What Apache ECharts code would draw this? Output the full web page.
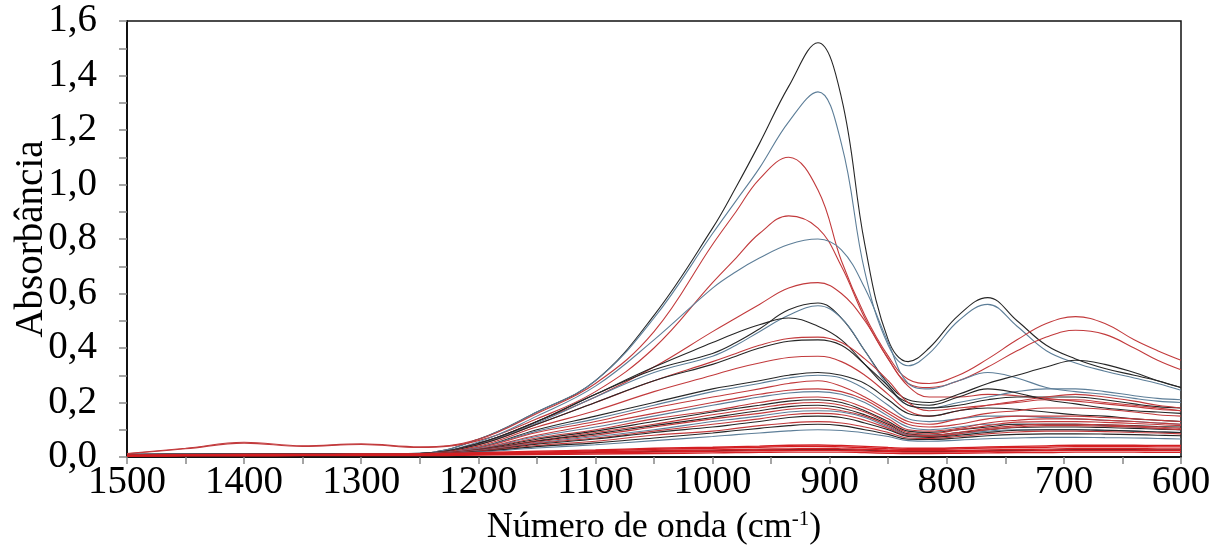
<!DOCTYPE html>
<html>
<head>
<meta charset="utf-8">
<script src="https://cdn.jsdelivr.net/npm/echarts@6/dist/echarts.min.js"></script>
<style>
  html, body { margin: 0; padding: 0; background: #fff; }
  #chart { width: 1219px; height: 554px; }
</style>
</head>
<body>
<div id="chart"></div>
<script>
// Wavenumbers (cm-1) at which each spectrum is sampled
const wavenumbers = [1500,1450,1400,1350,1300,1250,1200,1150,1100,1050,
                     1000,980,960,935,910,890,870,850,833,815,790,765,740,715,690,665,640,620,600];

// Absorbance spectra
const sA  = [0.010,0.011,0.012,0.012,0.012,0.014,0.065,0.165,0.280,0.520, .84,.99,1.15,1.36,1.52,1.32,.78,.43,.35,.40,.52,.585,.50,.41,.36,.325,.30,.28,.255];
const sB  = [0.010,0.011,0.011,0.011,0.012,0.014,0.065,0.165,0.280,0.510, .82,.94,1.06,1.23,1.34,1.15,.68,.41,.335,.38,.50,.56,.48,.39,.345,.315,.29,.27,.245];
const sC  = [0.013,0.032,0.054,0.041,0.048,0.037,0.065,0.160,0.270,0.460, .78,.90,1.02,1.10,.98,.72,.52,.37,.285,.27,.30,.36,.43,.49,.515,.49,.43,.39,.355];
const sD  = [0.012,0.030,0.051,0.039,0.046,0.035,0.060,0.140,0.240,0.400, .64,.73,.82,.885,.84,.70,.51,.36,.27,.255,.28,.33,.39,.44,.465,.45,.40,.355,.32];
const sE  = [0.009,0.010,0.011,0.011,0.011,0.013,0.055,0.150,0.260,0.430, .62,.68,.73,.78,.80,.76,.62,.42,.27,.25,.28,.31,.29,.255,.24,.23,.215,.205,.20];
const sF  = [0.009,0.010,0.010,0.010,0.011,0.013,0.050,0.130,0.220,0.330, .46,.51,.56,.62,.64,.60,.50,.36,.26,.22,.22,.23,.225,.215,.205,.195,.185,.175,.17];
const sG  = [0.009,0.010,0.010,0.010,0.011,0.013,0.050,0.130,0.230,0.320, .38,.42,.47,.54,.565,.51,.39,.27,.21,.20,.23,.27,.30,.33,.355,.34,.31,.28,.255];
const sG2 = [0.009,0.009,0.010,0.010,0.010,0.012,0.048,0.125,0.220,0.310, .37,.41,.46,.52,.555,.51,.39,.26,.19,.18,.20,.22,.24,.25,.25,.24,.225,.215,.21];
const sH  = [0.009,0.010,0.010,0.010,0.011,0.013,0.050,0.130,0.230,0.330, .42,.455,.485,.51,.48,.43,.34,.25,.20,.19,.22,.25,.235,.21,.195,.18,.17,.165,.16];
const sI  = [0.009,0.009,0.010,0.010,0.010,0.012,0.045,0.120,0.200,0.280, .35,.38,.41,.435,.44,.42,.36,.28,.20,.17,.18,.19,.20,.21,.21,.20,.19,.18,.17];
const sJ  = [0.009,0.009,0.010,0.010,0.010,0.012,0.045,0.120,0.200,0.280, .34,.37,.40,.425,.43,.41,.34,.26,.19,.18,.19,.21,.22,.22,.22,.21,.195,.185,.18];
const sK  = [0.008,0.009,0.009,0.010,0.010,0.012,0.040,0.110,0.170,0.240, .30,.325,.345,.365,.37,.35,.30,.23,.17,.15,.17,.19,.205,.22,.23,.22,.205,.19,.18];
const sL  = [0.008,0.009,0.009,0.010,0.010,0.012,0.035,0.100,0.150,0.200, .25,.265,.28,.30,.31,.30,.27,.21,.16,.15,.17,.18,.175,.165,.155,.15,.14,.135,.13];
const sM  = [0.008,0.009,0.009,0.009,0.010,0.011,0.035,0.095,0.140,0.190, .24,.255,.27,.29,.30,.29,.25,.19,.14,.13,.14,.15,.15,.145,.14,.135,.13,.125,.12];
const sN  = [0.008,0.009,0.009,0.009,0.010,0.011,0.033,0.090,0.130,0.180, .22,.235,.25,.27,.28,.26,.22,.17,.13,.12,.14,.16,.17,.18,.18,.175,.165,.155,.15];
const sO  = [0.008,0.008,0.009,0.009,0.010,0.011,0.030,0.080,0.120,0.160, .20,.215,.23,.245,.25,.24,.21,.16,.12,.11,.12,.14,.15,.15,.15,.145,.14,.135,.13];
const sP  = [0.008,0.008,0.009,0.009,0.009,0.011,0.030,0.075,0.110,0.150, .19,.205,.22,.235,.24,.23,.20,.15,.11,.10,.11,.12,.12,.12,.12,.115,.11,.105,.10];
const sQ  = [0.008,0.008,0.009,0.009,0.009,0.011,0.028,0.070,0.100,0.140, .17,.185,.20,.215,.22,.21,.18,.14,.10,.095,.105,.125,.135,.14,.14,.135,.13,.125,.12];
const sR  = [0.007,0.008,0.008,0.009,0.009,0.010,0.027,0.065,0.095,0.130, .165,.178,.19,.205,.21,.20,.17,.13,.095,.09,.10,.11,.12,.12,.12,.118,.115,.112,.11];
const sS  = [0.007,0.008,0.008,0.009,0.009,0.010,0.026,0.060,0.090,0.120, .155,.168,.18,.195,.20,.19,.165,.125,.09,.085,.10,.115,.128,.13,.13,.127,.123,.119,.115];
const sT  = [0.007,0.008,0.008,0.008,0.009,0.010,0.025,0.058,0.085,0.115, .145,.158,.17,.185,.19,.18,.155,.12,.085,.08,.09,.10,.108,.11,.11,.108,.105,.102,.10];
const sU  = [0.007,0.007,0.008,0.008,0.009,0.010,0.024,0.055,0.080,0.110, .14,.15,.16,.175,.18,.17,.15,.115,.082,.078,.09,.105,.115,.12,.12,.118,.114,.11,.105];
const sV  = [0.007,0.007,0.008,0.008,0.008,0.009,0.023,0.052,0.075,0.100, .13,.14,.15,.165,.17,.165,.145,.11,.08,.075,.085,.095,.10,.10,.10,.098,.095,.092,.09];
const sX  = [0.007,0.007,0.007,0.008,0.008,0.009,0.022,0.050,0.070,0.095, .12,.13,.14,.155,.16,.155,.135,.105,.078,.075,.085,.10,.11,.115,.115,.113,.11,.105,.10];
const sY  = [0.006,0.007,0.007,0.008,0.008,0.009,0.021,0.047,0.066,0.090, .11,.12,.13,.145,.15,.145,.125,.10,.075,.072,.08,.09,.098,.10,.10,.098,.095,.092,.09];
const sZ  = [0.006,0.007,0.007,0.007,0.008,0.008,0.020,0.042,0.058,0.080, .095,.105,.115,.125,.13,.125,.11,.09,.07,.068,.075,.085,.092,.095,.095,.093,.09,.088,.085];
const sAA = [0.006,0.006,0.007,0.007,0.007,0.008,0.019,0.038,0.052,0.070, .088,.097,.105,.115,.12,.115,.10,.083,.065,.064,.07,.078,.083,.085,.085,.084,.082,.08,.078];
const sAB = [0.006,0.006,0.006,0.007,0.007,0.008,0.018,0.033,0.045,0.060, .075,.082,.088,.096,.10,.097,.088,.075,.06,.058,.062,.067,.07,.072,.072,.071,.07,.068,.066];
const sb1 = [0.006,0.007,0.008,0.008,0.009,0.010,0.014,0.018,0.023,0.028, .032,.034,.036,.038,.039,.037,.034,.030,.028,.028,.030,.033,.035,.036,.038,.038,.038,.037,.037];
const sb2 = [0.005,0.006,0.007,0.007,0.008,0.008,0.011,0.015,0.019,0.023, .026,.027,.029,.030,.031,.030,.028,.025,.023,.023,.024,.026,.028,.029,.031,.031,.031,.030,.030];
const sb3 = [0.004,0.005,0.005,0.006,0.006,0.007,0.009,0.012,0.015,0.018, .021,.022,.023,.024,.025,.024,.022,.020,.018,.018,.019,.021,.022,.023,.025,.025,.025,.024,.024];
const sb4 = [0.005,0.005,0.006,0.006,0.007,0.007,0.010,0.013,0.017,0.020, .023,.024,.026,.027,.028,.027,.025,.022,.020,.020,.021,.023,.024,.025,.027,.027,.027,.026,.026];
const sb5 = [0.003,0.004,0.004,0.005,0.005,0.005,0.007,0.009,0.011,0.013, .015,.016,.017,.018,.018,.018,.016,.014,.013,.013,.014,.015,.016,.016,.018,.018,.018,.017,.017];
const sb6 = [0.007,0.008,0.009,0.009,0.010,0.011,0.016,0.021,0.026,0.032, .036,.038,.040,.043,.044,.042,.039,.035,.032,.032,.034,.037,.039,.041,.043,.043,.043,.042,.042];

// Axis ticks
const xTicks = [1500,1400,1300,1200,1100,1000,900,800,700,600];
const yTicks = [0,0.2,0.4,0.6,0.8,1.0,1.2,1.4,1.6];

const BLACK = '#262626';
const RED = '#c23a3c';
const BLUE = '#5d7e98';
const BAND = '#d41e22';

const spectra = [
  [sA, BLACK], [sB, BLUE], [sC, RED], [sD, RED], [sE, BLUE], [sF, RED],
  [sG, BLACK], [sG2, BLUE], [sH, BLACK], [sI, RED], [sJ, BLACK], [sK, RED],
  [sL, BLACK], [sM, BLUE], [sN, RED], [sO, RED], [sP, BLUE], [sQ, RED],
  [sR, BLACK], [sS, RED], [sT, BLACK], [sU, RED], [sV, BLUE], [sX, RED],
  [sY, BLACK], [sZ, RED], [sAA, BLACK], [sAB, BLUE],
  [sb4, BLACK], [sb1, BAND], [sb2, BAND], [sb3, BAND], [sb5, BAND], [sb6, BAND]
];

const FONT = '"Liberation Serif", "Times New Roman", serif';
const FS_TICK = 39;
const FS_NAME = 36;

const series = spectra.map(([vals, color], i) => ({
  type: 'line',
  data: wavenumbers.map((w, k) => [w, vals[k]]),
  showSymbol: false,
  smooth: 0.4,
  lineStyle: { color: color, width: color === BAND ? 1.4 : 1.1 },
  z: 2 + i,
  silent: true
}));

const chart = echarts.init(document.getElementById('chart'), null, { renderer: 'canvas' });
chart.setOption({
  animation: false,
  backgroundColor: '#fff',
  grid: {
    left: 127, right: 38, top: 21, bottom: 97,
    containLabel: false, outerBoundsMode: 'none',
    show: true, borderColor: '#111', borderWidth: 1.5, backgroundColor: 'transparent'
  },
  xAxis: {
    type: 'value',
    min: 600, max: 1500, interval: 100,
    inverse: true,
    name: '{t|Número de onda (cm}{s|-1}{t|)}',
    nameLocation: 'middle',
    nameGap: 52,
    nameMoveOverlap: false,
    nameTextStyle: {
      rich: {
        t: { fontFamily: FONT, fontSize: FS_NAME, color: '#000' },
        s: { fontFamily: FONT, fontSize: 21, color: '#000', verticalAlign: 'top', padding: [0, 0, 16, 0] }
      }
    },
    axisLine: { show: true, onZero: false, lineStyle: { color: '#111', width: 2 } },
    axisTick: { show: true, inside: false, length: 7, lineStyle: { color: '#888', width: 1.5 } },
    minorTick: { show: true, splitNumber: 2, length: 7, lineStyle: { color: '#888', width: 1.5 } },
    splitLine: { show: false },
    axisLabel: {
      fontFamily: FONT, fontSize: FS_TICK, color: '#000', margin: 6,
      formatter: v => xTicks.includes(v) ? String(v) : ''
    }
  },
  yAxis: {
    type: 'value',
    min: 0, max: 1.6, interval: 0.2,
    name: 'Absorbância',
    nameLocation: 'middle',
    nameGap: 76,
    nameMoveOverlap: false,
    nameTextStyle: { fontFamily: FONT, fontSize: 39, color: '#000' },
    axisLine: { show: true, lineStyle: { color: '#111', width: 2 } },
    axisTick: { show: true, inside: false, length: 8, lineStyle: { color: '#888', width: 1.5 } },
    minorTick: { show: true, splitNumber: 2, length: 8, lineStyle: { color: '#888', width: 1.5 } },
    splitLine: { show: false },
    axisLabel: {
      fontFamily: FONT, fontSize: FS_TICK, color: '#000', margin: 30,
      formatter: v => {
        const t = yTicks.find(y => Math.abs(y - v) < 1e-6);
        return t === undefined ? '' : t.toFixed(1).replace('.', ',');
      }
    }
  },
  series: series
});
</script>
</body>
</html>
